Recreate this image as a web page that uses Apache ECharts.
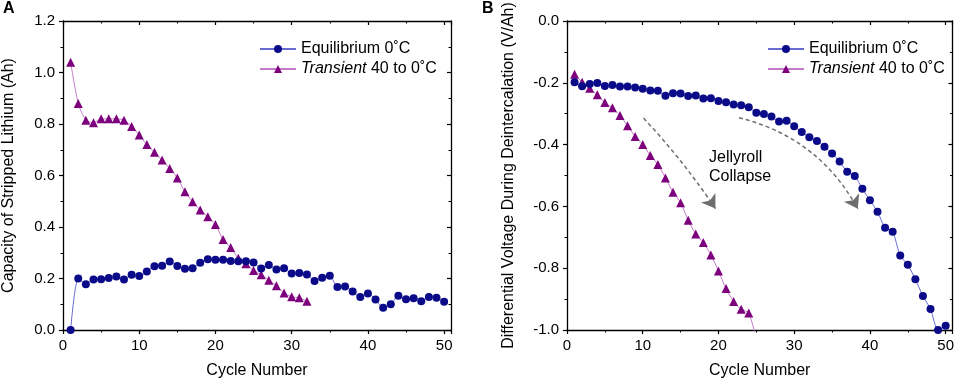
<!DOCTYPE html>
<html>
<head>
<meta charset="utf-8">
<script src="https://cdn.jsdelivr.net/npm/echarts@6/dist/echarts.min.js"></script>
<style>
  html, body { margin: 0; padding: 0; background: #fff; }
  #chart { width: 957px; height: 384px; }
</style>
</head>
<body>
<div id="chart"></div>
<script>
// cycle numbers
const cyclesEq = [1,2,3,4,5,6,7,8,9,10,11,12,13,14,15,16,17,18,19,20,21,22,23,24,25,
  26,27,28,29,30,31,32,33,34,35,36,37,38,39,40,41,42,43,44,45,46,47,48,49,50]
const cyclesTrA = [1,2,3,4,5,6,7,8,9,10,11,12,13,14,15,16,17,18,19,20,21,22,23,24,25,
  26,27,28,29,30,31,32]
const cyclesTrB = [1,2,3,4,5,6,7,8,9,10,11,12,13,14,15,16,17,18,19,20,21,22,23,24,25]

// panel A - capacity of stripped lithium (Ah)
const capEq = [0.0, 0.20, 0.178, 0.196, 0.197, 0.202, 0.208, 0.196, 0.215, 0.21,
  0.227, 0.248, 0.25, 0.266, 0.249, 0.238, 0.24, 0.261, 0.275, 0.273,
  0.273, 0.268, 0.267, 0.267, 0.262, 0.239, 0.252, 0.235, 0.24, 0.219,
  0.221, 0.216, 0.19, 0.203, 0.211, 0.167, 0.169, 0.15, 0.128, 0.142,
  0.118, 0.086, 0.10, 0.133, 0.119, 0.123, 0.112, 0.128, 0.125, 0.11]
const capTr = [1.04, 0.88, 0.815, 0.805, 0.82, 0.82, 0.82, 0.815, 0.79, 0.757,
  0.72, 0.69, 0.66, 0.627, 0.59, 0.537, 0.498, 0.466, 0.44, 0.41,
  0.351, 0.32, 0.279, 0.257, 0.231, 0.215, 0.193, 0.172, 0.144, 0.129,
  0.125, 0.112]

// panel B - differential voltage during deintercalation (V/Ah)
const dvEq = [-0.198, -0.211, -0.204, -0.201, -0.21, -0.207, -0.212, -0.212, -0.215, -0.219,
  -0.225, -0.226, -0.242, -0.234, -0.235, -0.243, -0.241, -0.251, -0.25, -0.259,
  -0.263, -0.27, -0.273, -0.279, -0.297, -0.301, -0.309, -0.325, -0.323, -0.341,
  -0.359, -0.376, -0.388, -0.407, -0.429, -0.455, -0.488, -0.502, -0.543, -0.58,
  -0.617, -0.669, -0.682, -0.759, -0.789, -0.836, -0.89, -0.932, -1.0, -0.986]
const dvTr = [-0.172, -0.198, -0.218, -0.239, -0.264, -0.281, -0.306, -0.339, -0.374, -0.40,
  -0.435, -0.464, -0.508, -0.554, -0.588, -0.645, -0.689, -0.717, -0.757, -0.809,
  -0.866, -0.908, -0.933, -0.945, -1.03]

// dashed arrows (in data units of panel B)
const arrowsB = [
  { coords: [[10.1, -0.314], [19.6, -0.607]], curve: 0.04 },
  { coords: [[22.7, -0.313], [38.4, -0.608]], curve: 0.22 }
]

const xTicks = [0, 10, 20, 30, 40, 50]

const nameEq = 'Equilibrium 0˚C'
const nameTr = 'Transient 40 to 0˚C'

const eqMarker = '#0b0b8a'
const eqLine = '#6a6ad2'
const trMarker = '#7d007d'
const trLine = '#c47cc8'
const FONT = 'Arial, "Liberation Sans", sans-serif'

let pair = function (xs, ys) {
  let result = []
  for (let i = 0; i < ys.length; i++) {
    result.push([xs[i], ys[i]])
  }
  return result
}

let bottomAxis = function (gridIndex) {
  return {
    gridIndex: gridIndex,
    type: 'value',
    position: 'bottom',
    min: 0,
    max: 50.9,
    interval: 10,
    name: 'Cycle Number',
    nameLocation: 'middle',
    nameGap: 33,
    nameTextStyle: { color: '#000', fontSize: 16, fontFamily: FONT },
    axisLine: { show: true, onZero: false, lineStyle: { color: '#000', width: 1.3 } },
    axisTick: { show: true, inside: false, length: 4, lineStyle: { color: '#000', width: 1.2 } },
    minorTick: { show: true, splitNumber: 2, length: 2.5, lineStyle: { color: '#000', width: 1 } },
    axisLabel: {
      color: '#000', fontSize: 15, fontFamily: FONT, margin: 8,
      showMaxLabel: false,
      formatter: function (v) { return xTicks.indexOf(v) >= 0 ? String(v) : '' }
    },
    splitLine: { show: false }
  }
}

let topAxis = function (gridIndex) {
  return {
    gridIndex: gridIndex,
    type: 'value',
    position: 'top',
    min: 0,
    max: 50.9,
    interval: 10,
    axisLine: { show: true, onZero: false, lineStyle: { color: '#000', width: 1.3 } },
    axisTick: { show: true, inside: true, length: 4, lineStyle: { color: '#000', width: 1.2 } },
    minorTick: { show: true, splitNumber: 2, length: 2.5, lineStyle: { color: '#000', width: 1 } },
    axisLabel: { show: false },
    splitLine: { show: false }
  }
}

let leftAxis = function (gridIndex, min, max, name, gap) {
  return {
    gridIndex: gridIndex,
    type: 'value',
    position: 'left',
    min: min,
    max: max,
    interval: 0.2,
    name: name,
    nameLocation: 'middle',
    nameGap: gap,
    nameTextStyle: { color: '#000', fontSize: 16, fontFamily: FONT },
    axisLine: { show: true, onZero: false, lineStyle: { color: '#000', width: 1.3 } },
    axisTick: { show: true, inside: false, length: 4, lineStyle: { color: '#000', width: 1.2 } },
    minorTick: { show: true, splitNumber: 2, length: 2.5, lineStyle: { color: '#000', width: 1 } },
    axisLabel: {
      color: '#000', fontSize: 15, fontFamily: FONT, margin: 8,
      formatter: function (v) { return (Math.abs(v) < 1e-9 ? 0 : v).toFixed(1) }
    },
    splitLine: { show: false }
  }
}

let rightAxis = function (gridIndex, min, max) {
  return {
    gridIndex: gridIndex,
    type: 'value',
    position: 'right',
    min: min,
    max: max,
    interval: 0.2,
    axisLine: { show: true, onZero: false, lineStyle: { color: '#000', width: 1.3 } },
    axisTick: { show: true, inside: true, length: 4, lineStyle: { color: '#000', width: 1.2 } },
    minorTick: { show: true, splitNumber: 2, length: 2.5, lineStyle: { color: '#000', width: 1 } },
    axisLabel: { show: false },
    splitLine: { show: false }
  }
}

let lineSeries = function (name, data, xi, yi) {
  let isEq = name === nameEq
  return {
    name: name,
    type: 'line',
    xAxisIndex: xi,
    yAxisIndex: yi,
    data: data,
    clip: true,
    symbol: isEq ? 'circle' : 'triangle',
    symbolSize: isEq ? 8 : 9,
    showAllSymbol: true,
    smooth: 0.25,
    lineStyle: { color: isEq ? eqLine : trLine, width: 1 },
    itemStyle: { color: isEq ? eqMarker : trMarker, borderWidth: 0 },
    emphasis: { disabled: true },
    animation: false,
    z: isEq ? 3 : 2
  }
}

let legendFor = function (left) {
  return {
    left: left,
    top: 36,
    orient: 'vertical',
    itemGap: 4,
    itemWidth: 36,
    itemHeight: 10,
    data: [nameEq, nameTr],
    selectedMode: false,
    textStyle: {
      color: '#000', fontSize: 16, fontFamily: FONT,
      rich: { i: { fontStyle: 'italic', fontSize: 16, fontFamily: FONT, color: '#000' } }
    },
    formatter: function (n) {
      return n === nameTr ? '{i|Transient} 40 to 0˚C' : n
    }
  }
}

const chart = echarts.init(document.getElementById('chart'), null, { renderer: 'canvas' })

const option = {
  animation: false,
  backgroundColor: '#fff',
  grid: [
    { left: 63, top: 21, width: 388, height: 313 },
    { left: 567, top: 21, width: 387, height: 313 }
  ],
  xAxis: [bottomAxis(0), topAxis(0), bottomAxis(1), topAxis(1)],
  yAxis: [
    leftAxis(0, 0, 1.2, 'Capacity of Stripped Lithium (Ah)', 46),
    rightAxis(0, 0, 1.2),
    leftAxis(1, -1, 0, 'Differential Voltage During Deintercalation (V/Ah)', 50),
    rightAxis(1, -1, 0)
  ],
  legend: [legendFor(254), legendFor(762)],
  graphic: [
    { type: 'text', left: 3, top: 1, style: { text: 'A', font: 'bold 16px ' + FONT, fill: '#000' } },
    { type: 'text', left: 482, top: 1, style: { text: 'B', font: 'bold 16px ' + FONT, fill: '#000' } },
    { type: 'text', left: 709, top: 148, style: { text: 'Jellyroll\nCollapse', font: '16px ' + FONT, fill: '#000', lineHeight: 19 } }
  ],
  series: [
    lineSeries(nameEq, pair(cyclesEq, capEq), 0, 0),
    lineSeries(nameTr, pair(cyclesTrA, capTr), 0, 0),
    lineSeries(nameEq, pair(cyclesEq, dvEq), 2, 2),
    lineSeries(nameTr, pair(cyclesTrB, dvTr), 2, 2)
  ].concat(arrowsB.map(function (a) {
    return {
      type: 'lines',
      coordinateSystem: 'cartesian2d',
      xAxisIndex: 2,
      yAxisIndex: 2,
      symbol: ['none', 'arrow'],
      symbolSize: 13,
      silent: true,
      lineStyle: { color: '#6e6e6e', width: 1.5, type: [4, 3], curveness: a.curve, opacity: 1 },
      data: [{ coords: a.coords }],
      animation: false
    }
  }))
}

chart.setOption(option)
</script>
</body>
</html>
